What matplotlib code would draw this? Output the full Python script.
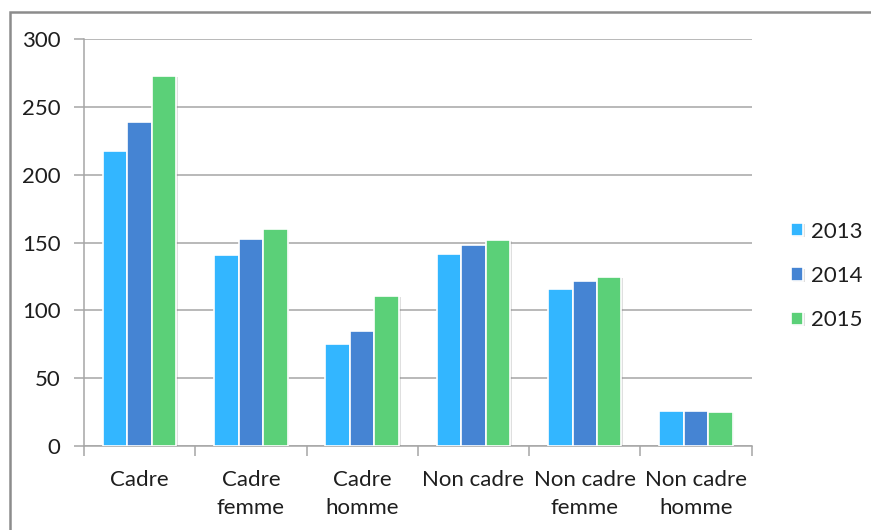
import numpy as np
import matplotlib
matplotlib.use('Agg')
import matplotlib.pyplot as plt
import matplotlib.patheffects as pe
from matplotlib.patches import Rectangle

# data
categories = ['Cadre', 'Cadre\nfemme', 'Cadre\nhomme', 'Non cadre', 'Non cadre\nfemme', 'Non cadre\nhomme']
years = ['2013', '2014', '2015']
values_2013 = [218, 141, 75, 142, 115.5, 26]
values_2014 = [239, 153, 85, 148, 122, 26]
values_2015 = [273, 160, 111, 152, 125, 25]
yticks = [0, 50, 100, 150, 200, 250, 300]

colors = ['#33B6FF', '#4584D3', '#5BD078']
grid_col = '#A6A6A6'
text_col = '#1E1E1E'

plt.rcParams['font.family'] = ['Lato', 'DejaVu Sans']
fs = 16

fig = plt.figure(figsize=(8.71, 5.30), dpi=100)
ax = fig.add_axes([84 / 871, 1 - 446 / 530, (751.7 - 84) / 871, (446 - 39.4) / 530])

# outer frame (left + top only visible)
fig.patches.append(Rectangle((9.5 / 871, -0.1), 1.2, (518 / 530) + 0.1,
                             transform=fig.transFigure, fill=False,
                             edgecolor='#8C8C8C', linewidth=1.8))

x = np.arange(len(categories))
w = 0.22
shadow = [pe.SimplePatchShadow(offset=(1.2, -0.8), shadow_rgbFace='#808080', alpha=0.25), pe.Normal()]
for i, (vals, yr) in enumerate(zip([values_2013, values_2014, values_2015], years)):
    bars = ax.bar(x + (i - 1) * w, vals, width=w, color=colors[i], edgecolor='white',
                  linewidth=1.2, label=yr, zorder=3)
    for b in bars:
        b.set_path_effects(shadow)

ax.set_xlim(-0.5, len(categories) - 0.5)
ax.set_ylim(0, 300)
ax.set_yticks(yticks)
ax.yaxis.grid(True, color=grid_col, linewidth=1.1, zorder=0)
ax.set_axisbelow(True)

ax.set_xticks(x)
ax.set_xticklabels(categories, fontsize=fs, color=text_col, linespacing=1.55)
ax.set_xticks(np.arange(len(categories) + 1) - 0.5, minor=True)
ax.tick_params(axis='x', which='major', length=0, pad=17)
ax.tick_params(axis='x', which='minor', length=7, width=1.1, color=grid_col, direction='out')
ax.tick_params(axis='y', length=7, width=1.1, color=grid_col, pad=10, labelsize=fs, labelcolor=text_col)

for side in ['top', 'right']:
    ax.spines[side].set_visible(False)
for side in ['left', 'bottom']:
    ax.spines[side].set_color(grid_col)
    ax.spines[side].set_linewidth(1.1)

leg = ax.legend(loc='center left', bbox_to_anchor=(791 / 871, 1 - 276 / 530),
                bbox_transform=fig.transFigure, frameon=False, fontsize=fs,
                handlelength=0.55, handleheight=0.55, handletextpad=0.35,
                labelspacing=1.1, borderpad=0, borderaxespad=0)
for t in leg.get_texts():
    t.set_color(text_col)

fig.savefig('out.png', dpi=100)
